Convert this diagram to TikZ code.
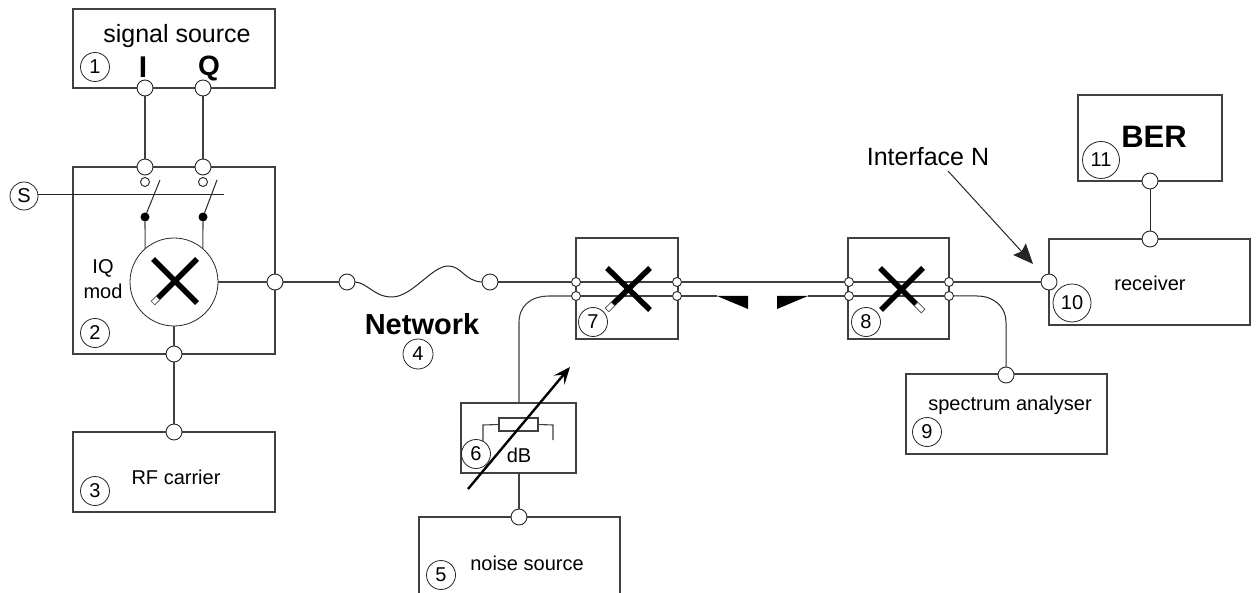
\documentclass[tikz,border=0pt]{standalone}
\usepackage{fontspec}
\setmainfont{Liberation Sans}
\usetikzlibrary{arrows.meta}
\newcommand{\fsz}[1]{\fontsize{#1}{#1}\selectfont}
\colorlet{ln}{black!75}
\tikzset{
  x=1pt,y=-1pt,
  wire/.style={draw=ln,line width=1.1pt},
  thinw/.style={draw=black!85,line width=1pt},
  boxn/.style={draw=ln,line width=1.1pt,rectangle,anchor=north west,inner sep=0pt,outer sep=0pt},
  port/.style={circle,draw=black!85,line width=0.9pt,fill=white,minimum size=16pt,inner sep=0pt,outer sep=0pt},
  pin/.style={circle,draw=black!85,line width=0.9pt,fill=white,minimum size=9pt,inner sep=0pt,outer sep=0pt},
  dot/.style={circle,fill=black,minimum size=9pt,inner sep=0pt,outer sep=0pt},
  numc/.style={circle,draw=black!85,line width=0.8pt,minimum size=29pt,inner sep=0pt,outer sep=0pt,font=\fsz{20}},
  lab/.style={inner sep=0pt,font=\fsz{20}},
  xleg/.style={line width=5.5pt,black},
  xtip/.style={line width=0.7pt,draw=black!70,fill=white},
}
\begin{document}
\begin{tikzpicture}
\useasboundingbox (0,0) rectangle (1258,593);
\fill[white] (0,0) rectangle (1258,593);
% boxes
\node[boxn,minimum width=202pt,minimum height=79pt] (b1) at (73,9) {};
\node[boxn,minimum width=202pt,minimum height=187pt] (b2) at (73,167) {};
\node[boxn,minimum width=202pt,minimum height=80pt] (b3) at (73,432) {};
\node[boxn,minimum width=102pt,minimum height=101pt] (b7) at (576,238) {};
\node[boxn,minimum width=101pt,minimum height=101pt] (b8) at (848,238) {};
\node[boxn,minimum width=115pt,minimum height=70pt] (b6) at (461,403) {};
\node[boxn,minimum width=201pt,minimum height=80pt] (b9) at (906,374) {};
\node[boxn,minimum width=201pt,minimum height=86pt] (b10) at (1049,239) {};
\node[boxn,minimum width=144pt,minimum height=86pt] (b11) at (1078,95) {};
\coordinate (b5a) at (419,593);
\coordinate (b5b) at (419,517);
\coordinate (b5c) at (620,517);
\coordinate (b5d) at (620,593);
\draw[wire] (b5a) -- (b5b) -- (b5c) -- (b5d);
% ports
\node[port] (p1i) at (145,88) {};
\node[port] (p1q) at (203,88) {};
\node[port] (p2i) at (145,167) {};
\node[port] (p2q) at (203,167) {};
\node[pin] (s1) at (145,182) {};
\node[pin] (s2) at (203,182) {};
\node[dot] (d1) at (145,217) {};
\node[dot] (d2) at (203,217) {};
\node[circle,draw=black!85,line width=0.8pt,fill=white,minimum size=88pt,inner sep=0pt,outer sep=0pt] (mix) at (174,282) {};
\node[port] (p2o) at (275,282) {};
\node[port] (p2c) at (174,354) {};
\node[port] (p3) at (174,432) {};
\node[port] (n1) at (347,282) {};
\node[port] (n2) at (490,282) {};
\node[pin] (a7) at (576,282) {};
\node[pin] (c7) at (576,296) {};
\node[pin] (b7r) at (677,282) {};
\node[pin] (d7) at (677,296) {};
\node[pin] (a8) at (849,282) {};
\node[pin] (c8) at (849,296) {};
\node[pin] (b8r) at (949,282) {};
\node[pin] (d8) at (949,296) {};
\node[port] (p10) at (1049,282) {};
\node[port] (p10t) at (1150,239) {};
\node[port] (p11) at (1150,181) {};
\node[port] (p9) at (1006,375) {};
\node[port] (p5) at (519,517) {};
% wires
\draw[wire] (p1i) -- (p2i);
\draw[wire] (p1q) -- (p2q);
\draw[wire] (d1) -- (mix.131);
\draw[wire] (d2) -- (mix.49);
\draw[wire] (mix) -- (p2o);
\draw[wire] (mix) -- (p2c);
\draw[wire] (p2c) -- (p3);
\draw[wire] (p2o) -- (n1);
\draw[thinw] (n1.east) .. controls (368,283) and (374,297) .. (392,297)
   .. controls (412,297) and (432,266) .. (448,266)
   .. controls (462,266) and (464,281) .. (n2.west);
\draw[wire] (n2) -- (a7);
\draw[wire] (a7) -- (b7r);
\draw[wire] (b7r) -- (a8);
\draw[wire] (a8) -- (b8r);
\draw[wire] (b8r) -- (p10);
\draw[wire] (c7) -- (d7);
\draw[wire] (c8) -- (d8);
\coordinate (w1) at (717,296);
\coordinate (w2) at (748,296);
\coordinate (w3) at (748,309);
\coordinate (w4) at (777,296);
\coordinate (w5) at (777,309);
\coordinate (w6) at (808,296);
\draw[wire] (d7) -- (w1);
\draw[wire] (w6) -- (c8);
\fill[black] (w1) -- (w2) -- (w3) -- cycle;
\fill[black] (w4) -- (w5) -- (w6) -- cycle;
\coordinate (k1) at (519,403);
\coordinate (k2) at (519,323);
\coordinate (k3) at (550,296);
\draw[wire] (k1) -- (k2) .. controls (519,306) and (530,296) .. (k3) -- (c7);
\coordinate (k4) at (519,473);
\draw[wire] (k4) -- (p5);
\coordinate (r1) at (977,296);
\coordinate (r2) at (1006,322);
\draw[thinw] (d8) -- (r1) .. controls (994,296) and (1006,307) .. (r2) -- (p9);
\draw[thinw] (p10t) -- (p11);
% S control and switches
\node[numc,minimum size=28pt] (ns) at (24,196) {S};
\coordinate (se) at (224,195);
\draw[thinw] (se -| ns.east) -- (se);
\coordinate (t1) at (160,180);
\coordinate (t2) at (217,180);
\draw[thinw] (d1) -- (t1);
\draw[thinw] (d2) -- (t2);
% crosses
\draw[xleg] (153,259) -- (197,303);
\draw[xleg] (197,259) -- (158,298);
\draw[xtip] (159.8,299.8) -- (156.2,296.2) -- (151.2,301.2) -- (154.8,304.8) -- cycle;
\draw[xleg] (607,268) -- (650,310);
\draw[xleg] (650,268) -- (613,304);
\draw[xtip] (614.8,305.8) -- (611.2,302.2) -- (605.2,308.2) -- (608.8,311.8) -- cycle;
\draw[xleg] (923,268) -- (881,310);
\draw[xleg] (880,268) -- (916,304);
\draw[xtip] (917.8,302.2) -- (914.2,305.8) -- (921.2,312.8) -- (924.8,309.2) -- cycle;
% attenuator
\node[boxn,minimum width=39pt,minimum height=13pt] (res) at (499,418) {};
\coordinate (rl1) at (483,425);
\coordinate (rl2) at (483,441);
\coordinate (rr1) at (553,425);
\coordinate (rr2) at (553,440);
\draw[wire] (res.west) -- (rl1) -- (rl2);
\draw[wire] (res.east) -- (rr1) -- (rr2);
\coordinate (at1) at (468,489);
\coordinate (at2) at (570,367);
\draw[line width=2.4pt,black,-{Stealth[length=17pt,width=14pt,inset=7pt]}] (at1) -- (at2);
% numbers
\node[numc] (c1) at (95,67) {1};
\node[numc] (c2) at (95,333) {2};
\node[numc] (c3) at (95,491) {3};
\node[numc,minimum size=30pt] (c4) at (418,354) {4};
\node[numc] (c5) at (441,575) {5};
\node[numc] (c6) at (476,454) {6};
\node[numc] (c7n) at (593,322) {7};
\node[numc] (c8n) at (866,322) {8};
\node[numc] (c9) at (927,432) {9};
\node[numc,minimum size=38pt] (c10) at (1072,303) {10};
\node[numc,minimum size=37pt] (c11) at (1101,160) {11};
% labels
\node[lab,font=\fsz{25}] (t1a) at (177,36) {signal source};
\node[lab,font=\bfseries\fsz{30}] (tI) at (143,67) {I};
\node[lab,font=\bfseries\fsz{28}] (tQ) at (209,68) {Q};
\node[lab] (tiq) at (103,268) {IQ};
\node[lab] (tmod) at (103,291) {mod};
\node[lab] (trf) at (176,477) {RF carrier};
\node[lab,font=\bfseries\fsz{29}] (tnet) at (422,324) {Network};
\node[lab] (tdb) at (519,455) {dB};
\node[lab] (tns) at (527,563) {noise source};
\node[lab] (tsa) at (1010,405) {spectrum analyser};
\node[lab] (trec) at (1150,283) {receiver};
\node[lab,font=\bfseries\fsz{31}] (tber) at (1154,137) {BER};
\node[lab,font=\fsz{25}] (tif) at (928,157) {Interface N};
\coordinate (ia) at (948,171);
\coordinate (ib) at (1033,264);
\draw[thinw,-{Stealth[length=20pt,width=17pt,inset=3pt]}] (ia) -- (ib);
\end{tikzpicture}
\end{document}
